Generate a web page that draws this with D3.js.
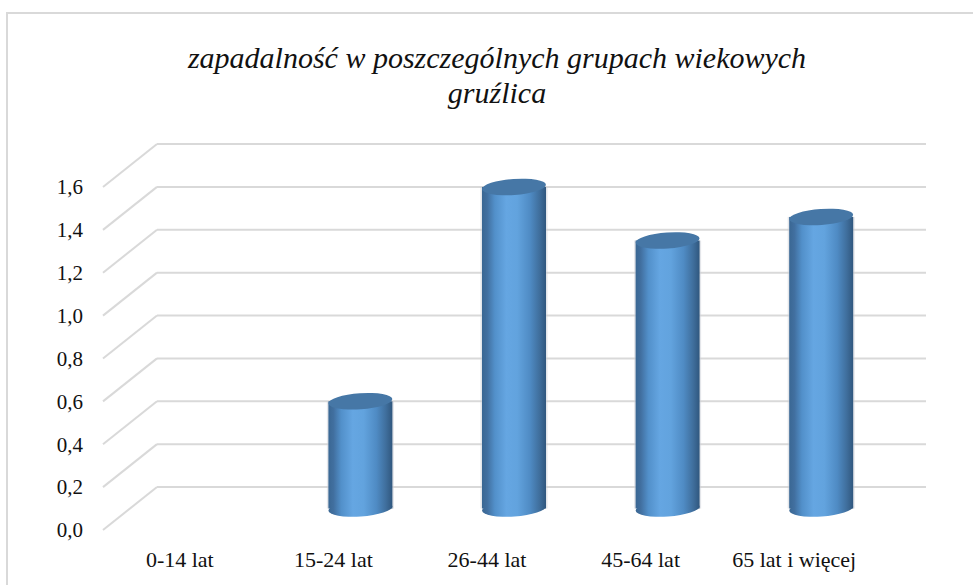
<!DOCTYPE html>
<html><head><meta charset="utf-8"><script src="https://cdn.jsdelivr.net/npm/d3@7"></script></head>
<body style="margin:0;background:#fff">
<svg id="chart" width="973" height="585" style="display:block;font-family:'Liberation Serif',serif"></svg>
<script>
// ---- data ----
const categories = ["0-14 lat", "15-24 lat", "26-44 lat", "45-64 lat", "65 lat i więcej"];
const values = [0, 0.5, 1.5, 1.25, 1.36];
const yTicks = [0, 0.2, 0.4, 0.6, 0.8, 1.0, 1.2, 1.4, 1.6];
const titleLines = ["zapadalność w poszczególnych grupach wiekowych", "gruźlica"];

// ---- layout ----
const W = 973, H = 585;
const svg = d3.select("#chart");

svg.append("rect")
  .attr("x", 7).attr("y", 13)
  .attr("width", W + 10).attr("height", H + 10)
  .attr("fill", "#fff")
  .attr("stroke", "#d9d9d9").attr("stroke-width", 2);

const x = d3.scaleBand().domain(categories).range([103, 871]).paddingInner(0).paddingOuter(0);
const y = d3.scaleLinear().domain([0, 1.6]).range([530, 187]);
const depthX = 54, depthY = -43;
const barDX = depthX / 2, barDY = depthY / 2;
const barRx = 32, barRy = 8;
const fmt = v => d3.format(".1f")(v).replace(".", ",");

const grid = svg.append("g").attr("stroke", "#d9d9d9").attr("stroke-width", 2).attr("fill", "none");
grid.selectAll("line.side").data(yTicks).join("line")
  .attr("class", "side")
  .attr("x1", x.range()[0]).attr("y1", d => y(d))
  .attr("x2", x.range()[0] + depthX).attr("y2", d => y(d) + depthY);
grid.selectAll("line.back").data(yTicks).join("line")
  .attr("class", "back")
  .attr("x1", x.range()[0] + depthX).attr("y1", d => y(d) + depthY)
  .attr("x2", x.range()[1] + depthX + 1).attr("y2", d => y(d) + depthY);

svg.append("g").selectAll("text").data(yTicks).join("text")
  .attr("x", 83).attr("y", d => y(d))
  .attr("dy", "0.35em")
  .attr("text-anchor", "end")
  .attr("font-size", 21)
  .style("font-family", d => `"Liberation Serif"`)
  .attr("fill", "#111")
  .text(fmt);

const defs = svg.append("defs");
const grad = defs.append("linearGradient").attr("id", "cyl").attr("x1", "0%").attr("x2", "100%").attr("y1", "0%").attr("y2", "0%");
[[0, "#3a6793"], [0.08, "#416f9f"], [0.2, "#5290ca"], [0.38, "#65a6e2"], [0.55, "#62a3de"], [0.75, "#4f8bc4"], [0.9, "#3f6e9c"], [1, "#30577e"]]
  .forEach(([o, c]) => grad.append("stop").attr("offset", o).attr("stop-color", c));

const bars = svg.append("g").selectAll("g.bar")
  .data(categories.map((c, i) => ({ c, v: values[i] })).filter(d => d.v > 0))
  .join("g").attr("class", "bar");

bars.each(function(d) {
  const g = d3.select(this);
  const cx = x(d.c) + x.bandwidth() / 2 + barDX;
  const yb = y(0) + barDY;
  const yt = y(d.v) + barDY;
  g.append("rect")
    .attr("x", cx - barRx - 1.5).attr("y", yt)
    .attr("width", 2 * barRx + 3).attr("height", yb - yt)
    .attr("fill", "#c9ced6").attr("opacity", 0.5);
  g.append("ellipse")
    .attr("cx", cx).attr("cy", yb)
    .attr("rx", barRx).attr("ry", barRy)
    .attr("transform", `rotate(-4 ${cx} ${yb})`)
    .attr("fill", "url(#cyl)");
  g.append("rect")
    .attr("x", cx - barRx).attr("y", yt)
    .attr("width", 2 * barRx).attr("height", yb - yt)
    .attr("fill", "url(#cyl)");
  g.append("ellipse")
    .attr("cx", cx).attr("cy", yt)
    .attr("rx", barRx).attr("ry", barRy)
    .attr("transform", `rotate(-4 ${cx} ${yt})`)
    .attr("fill", "#4677a6");
});

svg.append("g").selectAll("text").data(categories).join("text")
  .attr("x", d => x(d) + x.bandwidth() / 2)
  .attr("y", 567)
  .attr("text-anchor", "middle")
  .attr("font-size", 22)
  .style("font-family", d => `"Liberation Serif"`)
  .attr("fill", "#111")
  .text(d => d);

svg.append("g").selectAll("text").data(titleLines).join("text")
  .attr("x", 497)
  .attr("y", (d, i) => 68 + i * 35)
  .attr("text-anchor", "middle")
  .attr("font-size", 30)
  .style("font-family", d => `"Liberation Serif"`)
  .style("font-style", "italic")
  .attr("fill", "#111")
  .text(d => d);
</script>
</body>
</html>
